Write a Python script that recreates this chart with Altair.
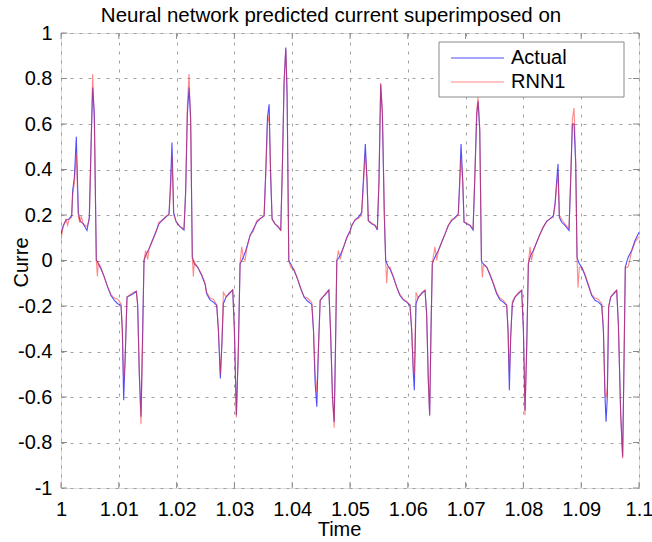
import altair as alt
import pandas as pd

# ---------------- data ----------------
seg1_time = [1.00000, 1.00040, 1.00087, 1.00115, 1.00138, 1.00185, 1.00202, 1.00231, 1.00265, 1.00300,
             1.00329, 1.00350, 1.00386, 1.00450, 1.00490, 1.00519, 1.00548, 1.00577, 1.00611, 1.00630,
             1.00646, 1.00692, 1.00750, 1.00807, 1.00865, 1.00923, 1.00980, 1.01038, 1.01061, 1.01084,
             1.01107, 1.01142, 1.01194, 1.01251, 1.01303, 1.01326, 1.01355, 1.01384, 1.01413, 1.01436,
             1.01465, 1.01500, 1.01522, 1.01580, 1.01638, 1.01696, 1.01753, 1.01811, 1.01869, 1.01897,
             1.01920, 1.01949, 1.01995, 1.02059, 1.02128, 1.02157, 1.02186, 1.02215, 1.02243, 1.02272,
             1.02290, 1.02307, 1.02364, 1.02434]
seg1_actual = [0.117, 0.154, 0.178, 0.180, 0.183, 0.197, 0.307, 0.365, 0.544, 0.212,
               0.173, 0.170, 0.161, 0.132, 0.190, 0.497, 0.760, 0.643, 0.000, -0.005,
               -0.015, -0.037, -0.073, -0.117, -0.154, -0.175, -0.190, -0.197, -0.307, -0.614,
               -0.453, -0.161, -0.154, -0.146, -0.135, -0.190, -0.497, -0.687, -0.307, 0.000,
               0.022, 0.040, 0.051, 0.088, 0.124, 0.161, 0.178, 0.190, 0.205, 0.351,
               0.519, 0.212, 0.168, 0.149, 0.134, 0.307, 0.643, 0.760, 0.629, 0.015,
               0.000, -0.015, -0.029, -0.066]
seg1_rnn = [0.095, 0.150, 0.180, 0.155, 0.180, 0.190, 0.290, 0.340, 0.470, 0.190,
            0.165, 0.195, 0.160, 0.150, 0.180, 0.480, 0.820, 0.600, 0.000, -0.070,
            -0.010, -0.030, -0.075, -0.115, -0.150, -0.165, -0.170, -0.190, -0.300, -0.530,
            -0.450, -0.160, -0.150, -0.140, -0.135, -0.200, -0.500, -0.720, -0.350, 0.000,
            0.045, 0.005, 0.050, 0.085, 0.120, 0.170, 0.175, 0.195, 0.200, 0.320,
            0.460, 0.200, 0.170, 0.150, 0.140, 0.300, 0.680, 0.820, 0.600, 0.010,
            -0.070, -0.005, -0.030, -0.060]

seg2_time = [1.02491, 1.02520, 1.02578, 1.02636, 1.02694, 1.02723, 1.02757, 1.02786, 1.02809, 1.02855,
             1.02913, 1.02971, 1.03000, 1.03034, 1.03069, 1.03098, 1.03127, 1.03156, 1.03185, 1.03213,
             1.03271, 1.03329, 1.03387, 1.03444, 1.03514, 1.03543, 1.03572, 1.03601, 1.03624, 1.03652,
             1.03704, 1.03762, 1.03802, 1.03831, 1.03860, 1.03889, 1.03912, 1.03941, 1.03976, 1.04033,
             1.04091, 1.04149, 1.04207, 1.04264, 1.04339, 1.04368, 1.04397, 1.04426, 1.04455, 1.04484,
             1.04530, 1.04588, 1.04634, 1.04663, 1.04697, 1.04726, 1.04749, 1.04772, 1.04800, 1.04830,
             1.04888, 1.04946]
seg2_actual = [-0.102, -0.146, -0.173, -0.183, -0.197, -0.307, -0.519, -0.351, -0.190, -0.161,
               -0.146, -0.129, -0.307, -0.680, -0.380, -0.015, 0.000, 0.015, 0.035, 0.058,
               0.110, 0.139, 0.168, 0.183, 0.197, 0.395, 0.629, 0.687, 0.395, 0.183,
               0.161, 0.146, 0.134, 0.424, 0.789, 0.936, 0.716, 0.000, -0.015, -0.044,
               -0.080, -0.124, -0.161, -0.178, -0.193, -0.307, -0.541, -0.643, -0.380, -0.175,
               -0.161, -0.146, -0.129, -0.307, -0.599, -0.710, -0.380, 0.000, 0.010, 0.022,
               0.058, 0.102]
seg2_rnn = [-0.100, -0.140, -0.165, -0.170, -0.195, -0.300, -0.500, -0.350, -0.140, -0.160,
            -0.140, -0.130, -0.300, -0.690, -0.400, -0.010, 0.060, 0.010, 0.000, 0.050,
            0.110, 0.130, 0.175, 0.185, 0.195, 0.380, 0.600, 0.640, 0.420, 0.180,
            0.160, 0.150, 0.130, 0.420, 0.780, 0.930, 0.750, 0.000, -0.030, -0.040,
            -0.080, -0.124, -0.160, -0.165, -0.185, -0.300, -0.500, -0.580, -0.380, -0.175,
            -0.160, -0.140, -0.130, -0.300, -0.600, -0.735, -0.400, 0.000, 0.045, 0.005,
            0.060, 0.100]

seg3_time = [1.05000, 1.05029, 1.05087, 1.05144, 1.05202, 1.05231, 1.05265, 1.05294, 1.05317, 1.05375,
             1.05433, 1.05473, 1.05502, 1.05531, 1.05560, 1.05594, 1.05617, 1.05635, 1.05652, 1.05692,
             1.05750, 1.05807, 1.05865, 1.05923, 1.05981, 1.06038, 1.06067, 1.06096, 1.06113, 1.06142,
             1.06182, 1.06240, 1.06298, 1.06326, 1.06355, 1.06378, 1.06401, 1.06424, 1.06470, 1.06500,
             1.06528, 1.06586, 1.06644, 1.06701, 1.06759, 1.06817, 1.06874, 1.06898, 1.06921, 1.06950,
             1.06973, 1.07020, 1.07077, 1.07129, 1.07158, 1.07193, 1.07216, 1.07245, 1.07274, 1.07290,
             1.07308, 1.07366, 1.07424]
seg3_actual = [0.130, 0.154, 0.178, 0.190, 0.212, 0.351, 0.512, 0.351, 0.175, 0.161,
               0.154, 0.134, 0.351, 0.775, 0.643, 0.190, 0.000, -0.010, -0.022, -0.037,
               -0.073, -0.117, -0.154, -0.173, -0.183, -0.197, -0.307, -0.497, -0.570, -0.190,
               -0.161, -0.146, -0.132, -0.234, -0.526, -0.680, -0.307, -0.015, 0.015, 0.030,
               0.044, 0.080, 0.117, 0.154, 0.175, 0.190, 0.205, 0.351, 0.512, 0.351,
               0.168, 0.161, 0.154, 0.134, 0.351, 0.643, 0.700, 0.570, 0.000, -0.010,
               -0.015, -0.029, -0.065]
seg3_rnn = [0.125, 0.150, 0.180, 0.185, 0.200, 0.330, 0.470, 0.360, 0.175, 0.165,
            0.155, 0.140, 0.360, 0.780, 0.660, 0.220, 0.000, -0.100, -0.030, -0.030,
            -0.070, -0.115, -0.150, -0.170, -0.180, -0.195, -0.300, -0.480, -0.500, -0.140,
            -0.165, -0.140, -0.130, -0.240, -0.530, -0.685, -0.320, -0.010, 0.060, 0.000,
            0.040, 0.080, 0.115, 0.155, 0.180, 0.185, 0.200, 0.330, 0.450, 0.350,
            0.170, 0.165, 0.155, 0.140, 0.360, 0.660, 0.720, 0.580, 0.000, -0.075,
            -0.020, -0.030, -0.060]

seg4_time = [1.07480, 1.07537, 1.07595, 1.07653, 1.07711, 1.07734, 1.07757, 1.07780, 1.07809, 1.07855,
             1.07913, 1.07971, 1.08000, 1.08028, 1.08057, 1.08086, 1.08115, 1.08140, 1.08172, 1.08230,
             1.08288, 1.08345, 1.08403, 1.08461, 1.08518, 1.08547, 1.08576, 1.08599, 1.08622, 1.08662,
             1.08720, 1.08789, 1.08818, 1.08847, 1.08876, 1.08905, 1.08928, 1.08945, 1.08968, 1.09009,
             1.09066, 1.09124, 1.09182, 1.09239, 1.09297, 1.09355, 1.09384, 1.09412, 1.09430, 1.09452,
             1.09475, 1.09510, 1.09567, 1.09614, 1.09643, 1.09683, 1.09717, 1.09740, 1.09763, 1.09800,
             1.09815, 1.09873, 1.09931, 1.10000]
seg4_actual = [-0.102, -0.146, -0.173, -0.183, -0.197, -0.307, -0.570, -0.336, -0.190, -0.161,
               -0.146, -0.132, -0.307, -0.660, -0.380, -0.015, 0.015, 0.030, 0.044, 0.080,
               0.117, 0.146, 0.173, 0.183, 0.197, 0.249, 0.351, 0.424, 0.190, 0.168,
               0.154, 0.132, 0.351, 0.599, 0.600, 0.424, 0.015, 0.000, -0.015, -0.029,
               -0.066, -0.110, -0.154, -0.175, -0.183, -0.197, -0.307, -0.599, -0.709, -0.599,
               -0.205, -0.161, -0.146, -0.132, -0.278, -0.673, -0.863, -0.453, -0.029, 0.005,
               0.015, 0.044, 0.088, 0.124]
seg4_rnn = [-0.100, -0.140, -0.165, -0.175, -0.195, -0.300, -0.500, -0.340, -0.180, -0.160,
            -0.140, -0.130, -0.300, -0.680, -0.400, -0.010, 0.060, 0.000, 0.040, 0.080,
            0.115, 0.150, 0.170, 0.185, 0.190, 0.240, 0.330, 0.380, 0.200, 0.180,
            0.160, 0.140, 0.360, 0.620, 0.670, 0.440, 0.010, -0.120, -0.030, -0.030,
            -0.060, -0.105, -0.150, -0.165, -0.170, -0.190, -0.300, -0.590, -0.600, -0.560,
            -0.200, -0.160, -0.140, -0.130, -0.280, -0.680, -0.870, -0.470, -0.030, -0.030,
            -0.025, 0.040, 0.080, 0.105]

series_names = ["Actual", "RNN1"]
series_colors = ["#3030ff", "#ff2828"]
series_opacity = [0.85, 0.55]
x_ticks = [1.0, 1.01, 1.02, 1.03, 1.04, 1.05, 1.06, 1.07, 1.08, 1.09, 1.1]
y_ticks = [-1, -0.8, -0.6, -0.4, -0.2, 0, 0.2, 0.4, 0.6, 0.8, 1]

# ---------------- build table ----------------
time = seg1_time + seg2_time + seg3_time + seg4_time
actual = seg1_actual + seg2_actual + seg3_actual + seg4_actual
rnn1 = seg1_rnn + seg2_rnn + seg3_rnn + seg4_rnn

rows = []
for t, a in zip(time, actual, strict=True):
    rows.append({"Time": t, "Current": a, "Series": series_names[0]})
for t, r in zip(time, rnn1, strict=True):
    rows.append({"Time": t, "Current": r, "Series": series_names[1]})
df = pd.DataFrame(rows)
xt = pd.DataFrame({"v": x_ticks})
yt = pd.DataFrame({"v": y_ticks})

W, H = 578, 455
FONT = "Liberation Sans"
FRAME = "#8a8a8a"

x_scale = alt.Scale(domain=[1.0, 1.1], nice=False, zero=False)
y_scale = alt.Scale(domain=[-1, 1], nice=False, zero=False)

lines = alt.Chart(df).mark_line(strokeWidth=1.1, clip=True).encode(
    x=alt.X("Time:Q", scale=x_scale,
            axis=alt.Axis(values=x_ticks, labelExpr="datum.value + ''", grid=True,
                          gridDash=[3, 6], gridColor="#a0a0a0", gridOpacity=1, tickSize=0,
                          domain=False, labelPadding=11, labelFontSize=20, labelColor="#000",
                          labelFont=FONT, labelFlush=False, title="Time", titleFontSize=20,
                          titleFont=FONT, titleFontWeight="normal", titleColor="#000",
                          titleX=278, titleY=47, titleBaseline="alphabetic")),
    y=alt.Y("Current:Q", scale=y_scale,
            axis=alt.Axis(values=y_ticks, labelExpr="datum.value + ''", grid=True,
                          gridDash=[3, 6], gridColor="#a0a0a0", gridOpacity=1, tickSize=0,
                          domain=False, labelPadding=9, labelFontSize=20, labelColor="#000",
                          labelFont=FONT, labelFlush=False, title="Curre", titleFontSize=20,
                          titleFont=FONT, titleFontWeight="normal", titleColor="#000",
                          titleX=-34, titleY=229, titleBaseline="alphabetic", titleAngle=-90)),
    color=alt.Color("Series:N", scale=alt.Scale(domain=series_names, range=series_colors),
                    legend=alt.Legend(title=None, orient="none", legendX=378, legendY=9,
                                      direction="vertical", symbolType="stroke", symbolSize=2809,
                                      symbolStrokeWidth=1.2, symbolOffset=5,
                                      labelFontSize=20, labelFont=FONT, labelColor="#000",
                                      padding=6, strokeColor=None, fillColor=None, rowPadding=4,
                                      labelOffset=6, labelLimit=0, clipHeight=20)),
    opacity=alt.Opacity("Series:N", scale=alt.Scale(domain=series_names, range=series_opacity),
                        legend=None),
)

# legend frame (decoration behind the legend entries)
legend_box = alt.Chart(xt.head(1)).mark_rect(fill="white", stroke=FRAME, strokeWidth=1).encode(
    x=alt.value(378), x2=alt.value(563), y=alt.value(9), y2=alt.value(64))

tick_bottom = alt.Chart(xt).mark_rule(color=FRAME, strokeWidth=1).encode(
    x=alt.X("v:Q", scale=x_scale), y=alt.value(H), y2=alt.value(H - 6))
tick_top = alt.Chart(xt).mark_rule(color=FRAME, strokeWidth=1).encode(
    x=alt.X("v:Q", scale=x_scale), y=alt.value(0), y2=alt.value(6))
tick_left = alt.Chart(yt).mark_rule(color=FRAME, strokeWidth=1).encode(
    y=alt.Y("v:Q", scale=y_scale), x=alt.value(0), x2=alt.value(6))
tick_right = alt.Chart(yt).mark_rule(color=FRAME, strokeWidth=1).encode(
    y=alt.Y("v:Q", scale=y_scale), x=alt.value(W), x2=alt.value(W - 6))

chart = alt.layer(lines, tick_bottom, tick_top, tick_left, tick_right, legend_box).properties(
    width=W, height=H,
    title=alt.TitleParams("Neural network predicted current superimposed on", fontSize=20.5,
                          font=FONT, fontWeight="normal", color="#000", anchor="middle",
                          offset=3, dx=-19, dy=6),
    padding={"left": 61, "top": 33, "right": 13, "bottom": 54},
    autosize=alt.AutoSizeParams(type="none"),
).configure_view(stroke=FRAME, strokeWidth=1).configure(background="white")

chart.save("out.html", embed_options={"renderer": "svg", "actions": False})
